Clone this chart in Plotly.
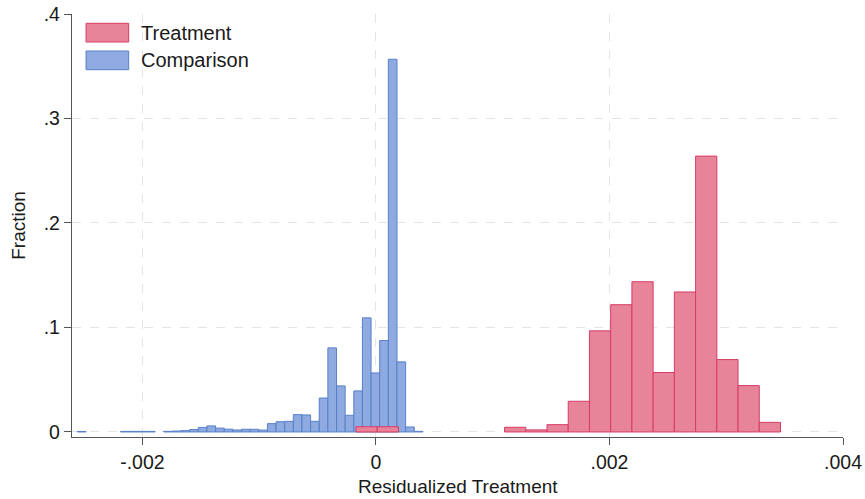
import plotly.graph_objects as go

# ---------------- data ----------------
# Comparison group histogram: 40 bins
blue_start = -0.002557
blue_width = 0.00007398
blue_fraction = [
    0.0005, None, None, None, None, 0.0006, 0.0006, 0.0006, 0.0006, None,
    0.0006, 0.0009, 0.0013, 0.0024, 0.0044, 0.0058, 0.0037, 0.0027, 0.0019, 0.0026,
    0.0026, 0.0018, 0.0080, 0.0098, 0.0102, 0.0166, 0.0163, 0.0102, 0.0325, 0.0805,
    0.0441, 0.0160, 0.0393, 0.1092, 0.0565, 0.0875, 0.3567, 0.0671, 0.0048, 0.0006,
]

# Treatment group histogram: 20 bins
red_start = -0.0001712
red_width = 0.0001818
red_fraction = [
    0.0050, 0.0050, None, None, None, None, None, 0.0045, 0.0020, 0.0070,
    0.0294, 0.0968, 0.1218, 0.1438, 0.0569, 0.1340, 0.2640, 0.0693, 0.0444, 0.0092,
]

x_tickvals = [-0.002, 0, 0.002, 0.004]
x_ticktext = ["-.002", "0", ".002", ".004"]
y_tickvals = [0, 0.1, 0.2, 0.3, 0.4]
y_ticktext = ["0", ".1", ".2", ".3", ".4"]

series_names = ["Treatment", "Comparison"]

# ---------------- styling ----------------
RED_FILL = "rgb(232,132,154)"
RED_LINE = "rgb(214,60,102)"
BLUE_FILL = "rgb(142,170,224)"
BLUE_LINE = "rgb(88,128,200)"
FONT = "Liberation Sans, Arial, Helvetica, sans-serif"
AXIS_COLOR = "#555555"
GRID_COLOR = "#e4e4e4"
TEXT_COLOR = "#1a1a1a"

blue_x = [blue_start + blue_width * (i + 0.5) for i in range(len(blue_fraction))]
red_x = [red_start + red_width * (i + 0.5) for i in range(len(red_fraction))]

fig = go.Figure()
fig.add_trace(go.Bar(
    x=blue_x, y=blue_fraction, width=[blue_width] * len(blue_x),
    name=series_names[1], showlegend=False,
    marker=dict(color=BLUE_FILL, line=dict(color=BLUE_LINE, width=1)),
))
fig.add_trace(go.Bar(
    x=red_x, y=red_fraction, width=[red_width] * len(red_x),
    name=series_names[0], showlegend=False,
    marker=dict(color=RED_FILL, line=dict(color=RED_LINE, width=1)),
))

axis_common = dict(
    automargin=False,
    showline=True, linecolor=AXIS_COLOR, linewidth=1.3,
    ticks="outside", ticklen=7, tickwidth=1.3, tickcolor=AXIS_COLOR,
    showgrid=True, gridcolor=GRID_COLOR, griddash="dash", gridwidth=1,
    zeroline=False, tickfont=dict(family=FONT, size=19.5, color=TEXT_COLOR),
)

fig.update_layout(
    width=865, height=499,
    margin=dict(l=72, r=22, t=14, b=62, autoexpand=False),
    paper_bgcolor="white", plot_bgcolor="white",
    barmode="overlay",
    xaxis=dict(range=[-0.002603, 0.004], tickvals=x_tickvals, ticktext=x_ticktext, **axis_common),
    yaxis=dict(range=[-0.0048, 0.4], tickvals=y_tickvals, ticktext=y_ticktext, **axis_common),
    font=dict(family=FONT, color=TEXT_COLOR),
)

# axis titles
fig.add_annotation(text="Residualized Treatment", xref="paper", yref="paper",
                   x=0.5, y=-0.1182, xanchor="center", yanchor="middle",
                   showarrow=False, font=dict(family=FONT, size=19, color=TEXT_COLOR))
fig.add_annotation(text="Fraction", xref="paper", yref="paper",
                   x=-0.0697, y=0.5, xanchor="center", yanchor="middle", textangle=-90,
                   showarrow=False, font=dict(family=FONT, size=19, color=TEXT_COLOR))

# legend (drawn manually to match large swatches)
legend_items = [(series_names[0], RED_FILL, RED_LINE, 0.9338, 0.978, 0.9558),
                (series_names[1], BLUE_FILL, BLUE_LINE, 0.8683, 0.9125, 0.8905)]
for name, fill, line, y0, y1, ty in legend_items:
    fig.add_shape(type="rect", xref="paper", yref="paper",
                  x0=0.0182, x1=0.0735, y0=y0, y1=y1,
                  fillcolor=fill, line=dict(color=line, width=1))
    fig.add_annotation(text=name, xref="paper", yref="paper", x=0.0873, y=ty,
                       xanchor="left", yanchor="middle", showarrow=False,
                       font=dict(family=FONT, size=20, color=TEXT_COLOR))

# remove the default 8px page margin so the figure fills the window exactly
fig.write_html("out.html", config={"displayModeBar": False},
               post_script="document.body.style.margin='0';")
